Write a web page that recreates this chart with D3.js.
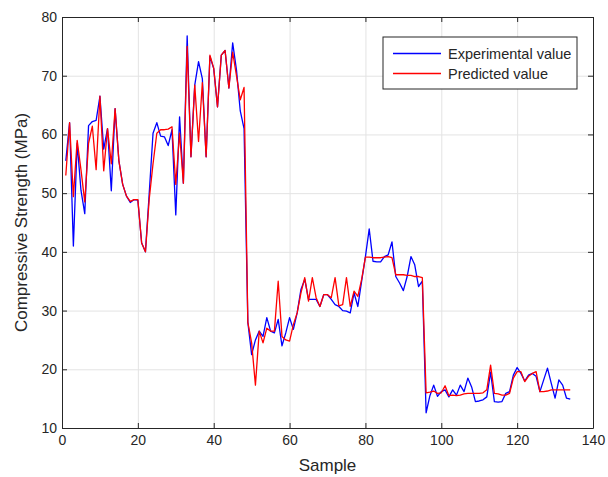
<!DOCTYPE html>
<html>
<head>
<meta charset="utf-8">
<script src="https://d3js.org/d3.v7.min.js"></script>
<style>
body { margin: 0; background: #fff; }
text { font-family: "Liberation Sans", Arial, sans-serif; fill: #262626; }
.grid line { stroke: #e3e3e3; }
.grid path { stroke: none; }
.axis path, .axis line { stroke: #262626; }
</style>
</head>
<body>
<svg id="chart" width="608" height="477"></svg>
<script>
// values, sample 1..134
var experimental = [55.5,62,41,58.5,50.5,46.5,61.5,62.2,62.4,66.5,57.5,61,50.4,64.4,55.5,51.5,49.5,48.4,48.9,48.8,
41.5,40,50,60.2,62,59.7,59.6,58.1,60.8,46.3,63,51.7,76.8,56.2,68.4,72.4,69.5,56.2,73.3,71.2,
64.7,73.5,74.3,67.9,75.6,71,64,61,28,22.5,25,26.5,25.6,28.8,26.5,26.2,28.5,24,26.2,28.8,
26.8,29.6,33.6,35.3,31.9,31.9,31.9,30.7,32.7,32.7,31.9,31,30.7,30,29.9,29.6,33,30.7,35,39.2,
43.9,38.4,38.3,38.3,39.2,39.5,41.7,35.8,34.7,33.4,35.8,39.2,37.8,34.1,35,12.6,15.5,17.3,15.4,16.2,
16.5,15.3,16.5,15.6,17.3,16.2,18.5,17,14.5,14.6,14.8,15.3,19.5,14.5,14.4,14.5,15.9,16.2,19,20.3,
19.3,18,19,19.3,18.8,16.2,18.2,20.2,17.6,15.1,18.2,17.3,15.1,14.9];
var predicted = [53,62,49.4,59,54,48.5,58.5,61.4,54,66.5,53.8,61,55,64.4,55.5,51.5,49.5,48.6,48.9,48.9,
41.5,40,49,55,60.2,60.8,60.8,60.9,61.3,51.5,60.2,51.7,75,56.2,68.4,58.8,68.8,56.2,73.5,71.3,
64.7,73.5,74.3,67.9,74,70,65.9,68,28,24.5,17.3,26.5,24.5,27,26.5,26.5,35,25.6,25,24.8,
27.6,29.6,33,35.6,31.6,35.6,32.2,30.7,32.7,32.7,32.2,35.6,30.8,31,35.6,30.7,33.3,32.4,35.3,39.1,
39.1,39,39,39,39.1,39.2,39,36.1,36.1,36.1,36,36,35.8,35.8,35.6,16,16.1,16.3,15.9,16,
17.2,15.5,15.6,15.5,15.6,15.8,15.9,15.9,15.9,15.9,16,16.5,20.7,15.9,15.8,15.6,15.6,15.9,18.5,19.6,
19.6,17.9,18.8,19.3,19.6,16.2,16.2,16.3,16.5,16.5,16.5,16.5,16.5,16.5];
var xTicks = [0,20,40,60,80,100,120,140];
var yTicks = [10,20,30,40,50,60,70,80];
var seriesNames = ["Experimental value", "Predicted value"];
var seriesColors = ["#0000ff", "#ff0000"];

const mLeft = 62, mTop = 17, mRight = 593, mBottom = 428;
const width = mRight - mLeft, height = mBottom - mTop;

var svg = d3.select("#chart");
var x = d3.scaleLinear().domain([0, 140]).range([0, width]);
var y = d3.scaleLinear().domain([10, 80]).range([height, 0]);
var g = svg.append("g").attr("transform", "translate(" + mLeft + "," + mTop + ")");

// grid
g.append("g").attr("class", "grid")
.attr("transform", "translate(0," + height + ")")
.call(d3.axisBottom(x).tickValues(xTicks).tickSize(-height).tickFormat(""));
g.append("g").attr("class", "grid")
.call(d3.axisLeft(y).tickValues(yTicks).tickSize(-width).tickFormat(""));

// lines
var line = d3.line().x(function(d, i) { return x(i + 1); }).y(function(d) { return y(d); });
[experimental, predicted].forEach(function(s, k) {
    g.append("path").datum(s)
    .attr("d", line)
    .attr("fill", "none")
    .attr("stroke", seriesColors[k])
    .attr("stroke-width", 1.3)
    .attr("stroke-linejoin", "round");
});

// axes, inward ticks on all four sides
g.append("g").attr("class", "axis")
.attr("transform", "translate(0," + height + ")")
.style("font-size", "14px")
.call(d3.axisBottom(x).tickValues(xTicks).tickSize(-5).tickPadding(7).tickSizeOuter(0));
g.append("g").attr("class", "axis")
.style("font-size", "14px")
.call(d3.axisLeft(y).tickValues(yTicks).tickSize(-5).tickPadding(5).tickSizeOuter(0));
g.append("g").attr("class", "axis")
.call(d3.axisTop(x).tickValues(xTicks).tickSize(-5).tickFormat("").tickSizeOuter(0));
g.append("g").attr("class", "axis")
.attr("transform", "translate(" + width + ",0)")
.call(d3.axisRight(y).tickValues(yTicks).tickSize(-5).tickFormat("").tickSizeOuter(0));
g.selectAll(".axis text").style("fill", "#262626").style("font-family", "Liberation Sans, Arial, sans-serif");

// axis titles
svg.append("text")
.attr("x", mLeft + width / 2).attr("y", 471)
.attr("text-anchor", "middle")
.style("font-size", "17px")
.text("Sample");
svg.append("text")
.attr("transform", "translate(27," + (mTop + height / 2) + ") rotate(-90)")
.attr("text-anchor", "middle")
.style("font-size", "17px")
.text("Compressive Strength (MPa)");

// legend
var lg = svg.append("g").attr("transform", "translate(383,37)");
lg.append("rect").attr("width", 194).attr("height", 52)
.attr("fill", "#fff").attr("stroke", "#262626").attr("stroke-width", 1);
seriesNames.forEach(function(n, k) {
    var ly = 16.5 + k * 20;
    lg.append("line").attr("x1", 10).attr("x2", 58).attr("y1", ly).attr("y2", ly)
    .attr("stroke", seriesColors[k]).attr("stroke-width", 1.3);
    lg.append("text").attr("x", 65).attr("y", ly + 5)
    .style("font-size", "14.5px")
    .text(n);
});
</script>
</body>
</html>
